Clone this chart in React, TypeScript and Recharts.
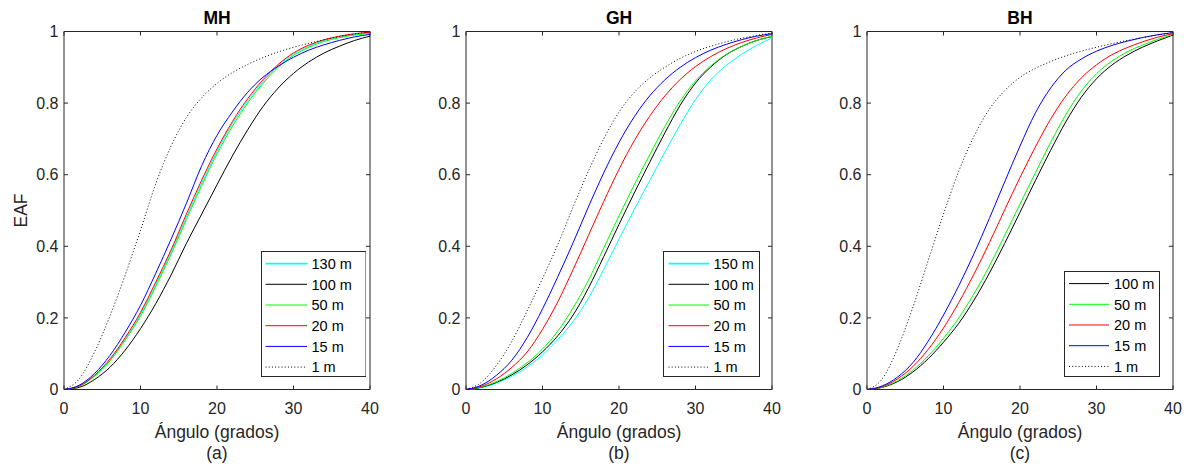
import React from 'react';
import { LineChart, Line, XAxis, YAxis, ReferenceArea, Legend, Label } from 'recharts';

// angle samples (degrees)
const ANGLES = [0, 2, 4, 6, 8, 10, 12, 14, 16, 18, 20, 22, 24, 26, 28, 30, 32, 34, 36, 38, 40];

// MH
const MH_130 = [0, 0.0095, 0.038, 0.082, 0.141, 0.21, 0.294, 0.384, 0.482, 0.577, 0.665, 0.742, 0.806, 0.86, 0.904, 0.937, 0.959, 0.975, 0.985, 0.992, 0.996];
const MH_100 = [0, 0.006, 0.028, 0.062, 0.11, 0.17, 0.24, 0.32, 0.408, 0.49, 0.572, 0.652, 0.725, 0.79, 0.842, 0.883, 0.915, 0.94, 0.959, 0.975, 0.987];
const MH_50 = [0, 0.009, 0.037, 0.08, 0.138, 0.205, 0.288, 0.378, 0.475, 0.57, 0.658, 0.735, 0.8, 0.855, 0.9, 0.933, 0.956, 0.972, 0.983, 0.99, 0.995];
const MH_20 = [0, 0.01, 0.04, 0.085, 0.145, 0.215, 0.3, 0.39, 0.49, 0.585, 0.672, 0.748, 0.812, 0.865, 0.908, 0.94, 0.962, 0.977, 0.987, 0.994, 0.998];
const MH_15 = [0, 0.012, 0.045, 0.095, 0.16, 0.235, 0.325, 0.42, 0.52, 0.625, 0.71, 0.775, 0.83, 0.872, 0.903, 0.928, 0.948, 0.963, 0.975, 0.985, 0.992];
const MH_1 = [0, 0.03, 0.105, 0.205, 0.32, 0.445, 0.575, 0.68, 0.76, 0.815, 0.855, 0.885, 0.908, 0.927, 0.943, 0.956, 0.967, 0.977, 0.986, 0.993, 0.999];

// GH
const GH_150 = [0, 0.005, 0.018, 0.037, 0.063, 0.097, 0.14, 0.19, 0.255, 0.335, 0.42, 0.503, 0.583, 0.663, 0.74, 0.81, 0.865, 0.905, 0.936, 0.961, 0.982];
const GH_100 = [0, 0.006, 0.02, 0.041, 0.069, 0.105, 0.15, 0.208, 0.283, 0.371, 0.461, 0.549, 0.634, 0.717, 0.794, 0.856, 0.901, 0.935, 0.958, 0.975, 0.986];
const GH_50 = [0, 0.007, 0.022, 0.045, 0.075, 0.113, 0.163, 0.228, 0.305, 0.395, 0.485, 0.572, 0.655, 0.735, 0.806, 0.862, 0.904, 0.936, 0.958, 0.975, 0.987];
const GH_20 = [0, 0.009, 0.03, 0.062, 0.105, 0.168, 0.245, 0.335, 0.43, 0.525, 0.615, 0.695, 0.763, 0.82, 0.866, 0.902, 0.93, 0.952, 0.969, 0.982, 0.992];
const GH_15 = [0, 0.012, 0.04, 0.082, 0.145, 0.225, 0.315, 0.41, 0.51, 0.605, 0.69, 0.762, 0.82, 0.865, 0.9, 0.927, 0.948, 0.964, 0.977, 0.987, 0.994];
const GH_1 = [0, 0.02, 0.068, 0.135, 0.22, 0.31, 0.405, 0.51, 0.61, 0.7, 0.775, 0.83, 0.87, 0.9, 0.925, 0.944, 0.959, 0.971, 0.981, 0.989, 0.996];

// BH
const BH_100 = [0, 0.006, 0.022, 0.049, 0.086, 0.132, 0.185, 0.25, 0.325, 0.408, 0.495, 0.583, 0.668, 0.748, 0.816, 0.868, 0.906, 0.934, 0.956, 0.974, 0.99];
const BH_50 = [0, 0.007, 0.025, 0.054, 0.094, 0.143, 0.2, 0.268, 0.345, 0.43, 0.518, 0.605, 0.69, 0.768, 0.833, 0.882, 0.917, 0.943, 0.962, 0.978, 0.992];
const BH_20 = [0, 0.008, 0.03, 0.064, 0.112, 0.172, 0.243, 0.323, 0.41, 0.502, 0.592, 0.677, 0.755, 0.82, 0.87, 0.907, 0.935, 0.955, 0.971, 0.984, 0.994];
const BH_15 = [0, 0.01, 0.035, 0.075, 0.135, 0.208, 0.29, 0.38, 0.478, 0.58, 0.68, 0.772, 0.842, 0.892, 0.923, 0.945, 0.961, 0.973, 0.983, 0.991, 0.997];
const BH_1 = [0, 0.03, 0.115, 0.23, 0.36, 0.49, 0.61, 0.708, 0.783, 0.835, 0.872, 0.897, 0.916, 0.932, 0.945, 0.956, 0.966, 0.975, 0.983, 0.99, 0.997];

const X_TICKS = [0, 10, 20, 30, 40];
const Y_TICKS = [0, 0.2, 0.4, 0.6, 0.8, 1];

const AXIS_COLOR = '#262626';
const FONT = '"Liberation Sans", Arial, Helvetica, sans-serif';

const PLOT_W = 306;
const PLOT_H = 358;
const Y_AXIS_W = 60;
const X_AXIS_H = 30;
const TOP = 31.5;
const CHART_H = 469;
const BOTTOM = CHART_H - TOP - PLOT_H - X_AXIS_H;
const CHART_W = Y_AXIS_W + PLOT_W + 14;
const ROW_GAP = 20.7;

type Series = { key: string; name: string; values: number[]; color: string; dash?: string };
type LegendBox = { left: number; top: number; w: number; h: number; sampleX: number; sampleLen: number; textX: number };

const line = (key: string, name: string, values: number[], color: string, dash?: string): Series => ({ key, name, values, color, dash });

const PANELS = [
  {
    title: 'MH',
    caption: '(a)',
    chartLeft: 3.5,
    yLabel: true,
    series: [
      line('s130', '130 m', MH_130, '#00ffff'),
      line('s100', '100 m', MH_100, '#000000'),
      line('s50', '50 m', MH_50, '#00ff00'),
      line('s20', '20 m', MH_20, '#ff0000'),
      line('s15', '15 m', MH_15, '#0000ff'),
      line('s1', '1 m', MH_1, '#000000', '1 2.2'),
    ],
    legend: { left: 257, top: 250.5, w: 105.5, h: 126, sampleX: 4.5, sampleLen: 41.5, textX: 50.5 },
  },
  {
    title: 'GH',
    caption: '(b)',
    chartLeft: 405.5,
    yLabel: false,
    series: [
      line('s150', '150 m', GH_150, '#00ffff'),
      line('s100', '100 m', GH_100, '#000000'),
      line('s50', '50 m', GH_50, '#00ff00'),
      line('s20', '20 m', GH_20, '#ff0000'),
      line('s15', '15 m', GH_15, '#0000ff'),
      line('s1', '1 m', GH_1, '#000000', '1 2.2'),
    ],
    legend: { left: 257, top: 250.5, w: 97, h: 126, sampleX: 5.5, sampleLen: 40.5, textX: 50.5 },
  },
  {
    title: 'BH',
    caption: '(c)',
    chartLeft: 806.5,
    yLabel: false,
    series: [
      line('s100', '100 m', BH_100, '#000000'),
      line('s50', '50 m', BH_50, '#00ff00'),
      line('s20', '20 m', BH_20, '#ff0000'),
      line('s15', '15 m', BH_15, '#0000ff'),
      line('s1', '1 m', BH_1, '#000000', '1 2.2'),
    ],
    legend: { left: 257.5, top: 270.5, w: 96, h: 106, sampleX: 5, sampleLen: 40, textX: 50 },
  },
];

function buildRows(series: Series[]) {
  return ANGLES.map((a, i) => {
    const row: Record<string, number> = { angle: a };
    series.forEach((s) => {
      row[s.key] = s.values[i];
    });
    return row;
  });
}

// bottom ticks: inward tick at bottom and top of the box
const XTick = (props: any) => {
  const { x, y, payload } = props;
  return (
    <g>
      <line x1={x} x2={x} y1={y} y2={y - 4} stroke={AXIS_COLOR} />
      <line x1={x} x2={x} y1={y - PLOT_H} y2={y - PLOT_H + 4} stroke={AXIS_COLOR} />
      <text x={x} y={y + 24.5} textAnchor="middle" fill={AXIS_COLOR} fontSize={16} fontFamily={FONT}>
        {payload.value}
      </text>
    </g>
  );
};

// left ticks: inward tick at left and right of the box
const YTick = (props: any) => {
  const { x, y, payload } = props;
  return (
    <g>
      <line x1={x} x2={x + 4} y1={y} y2={y} stroke={AXIS_COLOR} />
      <line x1={x + PLOT_W} x2={x + PLOT_W - 4} y1={y} y2={y} stroke={AXIS_COLOR} />
      <text x={x - 5.5} y={y + 5.7} textAnchor="end" fill={AXIS_COLOR} fontSize={16} fontFamily={FONT}>
        {payload.value}
      </text>
    </g>
  );
};

function makeLegend(series: Series[], box: LegendBox) {
  return () => (
    <svg width={box.w} height={box.h} style={{ display: 'block' }}>
      <rect x={0.5} y={0.5} width={box.w - 1} height={box.h - 1} fill="#ffffff" stroke={AXIS_COLOR} />
      {series.map((s, i) => {
        const cy = 12.6 + i * ROW_GAP;
        return (
          <g key={s.key}>
            <line
              x1={box.sampleX}
              x2={box.sampleX + box.sampleLen}
              y1={cy}
              y2={cy}
              stroke={s.color}
              strokeWidth={s.color === '#00ffff' ? 1.6 : 1}
              strokeDasharray={s.dash}
            />
            <text x={box.textX} y={cy + 5.2} fontSize={14.5} fontFamily={FONT} fill="#000000">
              {s.name}
            </text>
          </g>
        );
      })}
    </svg>
  );
}

function Panel({ panel }: { panel: (typeof PANELS)[number] }) {
  const rows = buildRows(panel.series);
  const xLabels = (p: any) => {
    const vb = p.viewBox || {};
    const cx = vb.x + vb.width / 2;
    return (
      <g fontFamily={FONT}>
        <text x={cx} y={vb.y - PLOT_H - 7.5} textAnchor="middle" fontSize={17.5} fontWeight="bold" fill="#000000">
          {panel.title}
        </text>
        <text x={cx} y={vb.y + 48.5} textAnchor="middle" fontSize={17.5} fill={AXIS_COLOR}>
          Ángulo (grados)
        </text>
        <text x={cx} y={vb.y + 69.5} textAnchor="middle" fontSize={17.5} fill={AXIS_COLOR}>
          {panel.caption}
        </text>
      </g>
    );
  };
  const yLabel = (p: any) => {
    const vb = p.viewBox || {};
    const cy = vb.y + vb.height / 2;
    const lx = 23;
    return (
      <text x={lx} y={cy} transform={`rotate(-90 ${lx} ${cy})`} textAnchor="middle" fontSize={17.5} fontFamily={FONT} fill={AXIS_COLOR}>
        EAF
      </text>
    );
  };

  return (
    <div style={{ position: 'absolute', left: panel.chartLeft, top: 0 }}>
      <LineChart width={CHART_W} height={CHART_H} data={rows} margin={{ top: TOP, right: CHART_W - Y_AXIS_W - PLOT_W, bottom: BOTTOM, left: 0 }}>
        <XAxis
          dataKey="angle"
          type="number"
          domain={[0, 40]}
          ticks={X_TICKS}
          interval={0}
          height={X_AXIS_H}
          tickSize={0}
          tickMargin={0}
          axisLine={false}
          tickLine={false}
          tick={<XTick />}
        >
          <Label content={xLabels} />
        </XAxis>
        <YAxis
          type="number"
          domain={[0, 1]}
          ticks={Y_TICKS}
          interval={0}
          width={Y_AXIS_W}
          tickSize={0}
          tickMargin={0}
          axisLine={false}
          tickLine={false}
          tick={<YTick />}
        >
          {panel.yLabel ? <Label content={yLabel} /> : null}
        </YAxis>
        {panel.series.map((s) => (
          <Line
            key={s.key}
            type="monotone"
            dataKey={s.key}
            name={s.name}
            stroke={s.color}
            strokeWidth={1}
            strokeDasharray={s.dash}
            dot={false}
            activeDot={false}
            isAnimationActive={false}
          />
        ))}
        <ReferenceArea x1={0} x2={40} y1={0} y2={1} fill="none" fillOpacity={0} stroke={AXIS_COLOR} strokeWidth={1} />
        <Legend
          layout="vertical"
          align="center"
          verticalAlign="middle"
          content={makeLegend(panel.series, panel.legend)}
          wrapperStyle={{ left: panel.legend.left, top: panel.legend.top, width: panel.legend.w, height: panel.legend.h }}
        />
      </LineChart>
    </div>
  );
}

export default function App() {
  return (
    <div style={{ position: 'absolute', left: 0, top: 0, width: 1189, height: 469, background: '#ffffff', overflow: 'hidden' }}>
      {PANELS.map((p) => (
        <Panel key={p.title} panel={p} />
      ))}
    </div>
  );
}
